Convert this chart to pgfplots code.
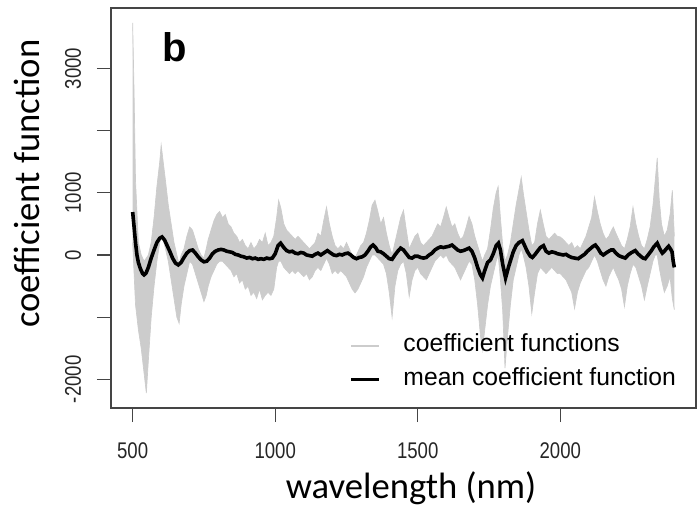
\documentclass[border=0pt]{standalone}
\usepackage{fontspec}
\usepackage{pgfplots}
\usepackage{pgfplotstable}
\pgfplotsset{compat=1.18}
\usepgfplotslibrary{fillbetween}
\newfontfamily\tickfont[FakeStretch=0.82]{Liberation Sans}
\newfontfamily\legfont{Liberation Sans}
\newfontfamily\labfont{Carlito}
\definecolor{band}{gray}{0.80}
\definecolor{frame}{gray}{0.27}

% envelope of the individual coefficient functions
\pgfplotstableread{
x up lo
500 3730 200
505 2600 -300
510 1200 -800
520 200 -1200
530 0 -1500
540 -100 -1900
548 -50 -2220
555 0 -1700
565 200 -1000
575 600 -500
585 1100 -100
595 1500 200
600 1770 300
607 1500 250
615 1200 100
625 800 -100
635 500 -400
645 200 -700
655 0 -1000
663 -150 -1100
670 0 -800
680 100 -500
690 300 -300
700 450 -100
710 400 -150
720 250 -300
730 100 -450
740 0 -600
750 -50 -750
758 100 -650
765 250 -500
775 400 -350
785 550 -250
795 650 -150
805 700 -100
815 600 -100
825 650 -150
835 500 -200
845 450 -250
855 350 -350
865 300 -300
875 200 -450
885 250 -400
895 150 -550
905 100 -500
915 200 -650
925 100 -600
935 150 -700
945 250 -550
955 200 -720
965 350 -650
975 150 -600
985 200 -650
995 300 -550
1005 600 -200
1012 880 -100
1020 750 -100
1030 500 -200
1040 400 -250
1050 350 -300
1060 300 -250
1070 250 -300
1080 300 -250
1090 250 -300
1100 200 -350
1110 150 -300
1120 100 -400
1130 150 -350
1140 200 -250
1150 350 -200
1160 300 -250
1170 550 -150
1180 770 -50
1190 500 -150
1200 300 -300
1210 150 -250
1220 100 -300
1230 150 -250
1240 100 -300
1250 200 -350
1260 100 -450
1270 0 -550
1280 -50 -610
1290 50 -550
1300 150 -450
1310 200 -350
1320 350 -200
1330 550 -100
1340 800 0
1350 880 0
1360 700 -50
1370 500 -100
1380 600 -150
1390 350 -300
1400 150 -600
1410 0 -1000
1420 200 -500
1430 400 -250
1440 600 -150
1450 720 -100
1460 400 -300
1470 100 -670
1480 200 -400
1490 300 -250
1500 350 -200
1510 200 -300
1520 150 -350
1530 200 -400
1540 250 -300
1550 300 -200
1560 400 -100
1570 500 -50
1580 450 0
1590 600 -50
1600 770 0
1610 600 -100
1620 450 -150
1630 500 -200
1640 350 -300
1650 250 -400
1660 300 -300
1670 450 -200
1680 620 -100
1690 500 -150
1700 300 -400
1710 150 -800
1720 0 -1300
1727 -100 -1530
1735 0 -1200
1745 100 -800
1755 400 -500
1765 750 -300
1775 1000 -100
1782 1100 0
1790 600 -400
1798 150 -900
1806 -100 -1820
1815 0 -1300
1825 200 -800
1835 500 -400
1845 800 -200
1855 1050 0
1863 1250 100
1870 1000 0
1880 700 -200
1890 400 -500
1900 150 -940
1910 200 -600
1920 500 -300
1930 720 -200
1940 500 -250
1950 300 -300
1960 250 -250
1970 300 -200
1980 350 -250
1990 300 -300
2000 290 -300
2010 250 -350
2020 200 -400
2030 150 -500
2040 200 -600
2050 100 -860
2060 150 -600
2070 100 -450
2080 200 -350
2090 300 -250
2100 450 -200
2110 600 -100
2120 930 0
2130 700 -100
2140 500 -250
2150 350 -400
2160 250 -500
2170 300 -350
2180 400 -250
2186 450 -200
2195 350 -300
2205 250 -400
2215 150 -550
2225 100 -830
2235 250 -500
2245 450 -300
2255 770 -150
2265 500 -200
2275 300 -350
2285 150 -500
2295 100 -720
2305 250 -500
2315 450 -300
2325 800 -100
2333 1200 0
2340 1560 0
2347 900 -200
2355 500 -400
2365 300 -600
2375 400 -500
2385 650 -350
2393 1040 -700
2400 300 -880
}\envtab

% mean coefficient function
\pgfplotstableread{
x y
500 690
505 450
510 200
515 0
520 -120
527 -220
535 -300
540 -320
547 -290
555 -200
565 -50
575 80
585 200
595 270
603 290
612 240
620 160
630 60
640 -50
650 -130
660 -160
670 -120
680 -40
690 30
700 70
710 80
720 30
730 -30
740 -80
750 -110
760 -100
770 -50
780 20
790 60
800 80
810 90
820 80
830 60
840 50
850 40
860 10
870 0
880 -20
890 -30
900 -50
910 -40
920 -60
930 -50
940 -70
950 -60
960 -70
970 -50
980 -60
990 -50
1000 20
1010 150
1019 190
1030 120
1040 70
1050 50
1060 60
1070 30
1080 20
1090 40
1100 30
1110 0
1120 -10
1130 -20
1140 10
1150 30
1160 0
1170 30
1183 70
1195 30
1205 0
1215 -10
1225 10
1235 0
1245 20
1255 30
1265 0
1275 -40
1285 -60
1295 -40
1305 -30
1315 0
1325 60
1335 130
1343 160
1352 120
1360 60
1370 50
1380 20
1390 -20
1400 -60
1410 -70
1420 0
1430 60
1440 110
1450 80
1460 20
1470 -40
1480 -50
1490 -20
1500 -20
1510 -40
1520 -50
1530 -40
1540 0
1550 30
1560 80
1570 110
1580 130
1590 120
1600 130
1610 140
1620 160
1630 120
1640 80
1650 60
1660 70
1670 90
1680 110
1690 60
1700 -50
1710 -200
1720 -320
1727 -370
1735 -250
1745 -120
1755 -80
1765 20
1775 150
1783 190
1790 80
1798 -150
1808 -370
1818 -200
1826 -80
1835 50
1845 150
1855 200
1867 230
1875 150
1885 50
1895 -20
1902 -40
1910 0
1920 60
1930 120
1941 150
1950 60
1960 30
1970 50
1980 40
1990 20
2000 10
2010 0
2020 10
2030 -20
2040 -40
2050 -50
2063 -60
2075 -20
2085 10
2095 60
2105 100
2115 140
2123 160
2133 100
2142 30
2151 0
2160 30
2170 60
2178 80
2186 80
2195 30
2205 -10
2215 -30
2228 -50
2238 0
2250 40
2263 70
2272 20
2282 -20
2290 -50
2298 -60
2308 0
2318 60
2328 130
2340 190
2350 90
2358 30
2365 60
2372 100
2380 140
2386 100
2392 50
2396 -100
2400 -200
}\meantab

\begin{document}
\begin{tikzpicture}
\begin{axis}[
    scale only axis, width=438.75pt, height=300pt,
    xmin=424, xmax=2476, ymin=-2460, ymax=3970,
    axis line style={draw=frame, line width=0.9pt},
    tick pos=left, tick align=outside, major tick length=10.5pt,
    tick style={draw=frame, line width=0.9pt},
    xtick={500,1000,1500,2000}, xticklabels={500,1000,1500,2000},
    ytick={-2000,-1000,0,1000,2000,3000},
    yticklabels={-2000,{},0,1000,{},3000},
    ticklabel style={font=\tickfont\fontsize{17}{20}\selectfont, text=black!85},
    xticklabel style={anchor=base, yshift=-27pt},
    yticklabel style={xshift=-12pt, rotate=90, anchor=base},
    xlabel={wavelength (nm)}, ylabel={coefficient function},
    label style={font=\labfont\fontsize{27.5}{32}\selectfont},
    xlabel style={at={(axis description cs:0.513,-0.225)}, anchor=base},
    ylabel style={at={(axis description cs:-0.1214,0.561)}, anchor=base},
    legend style={draw=none, fill=none, at={(axis description cs:0.407,0.185)},
        anchor=north west, inner sep=0pt, row sep=8.5pt,
        font=\legfont\fontsize{18.5}{22}\selectfont,
        nodes={inner sep=0pt, text height=13pt, text depth=4pt},
        /tikz/every odd column/.append style={column sep=17pt}},
    legend cell align=left,
    legend image code/.code={\draw[#1] (0pt,0pt) -- (21pt,0pt);},
]
\addlegendimage{band, line width=1.4pt}
\addlegendimage{black, line width=2.6pt}
\addplot[name path=up, draw=band, line width=0.5pt, forget plot] table[x=x, y=up] {\envtab};
\addplot[name path=lo, draw=band, line width=0.5pt, forget plot] table[x=x, y=lo] {\envtab};
\addplot[band, forget plot] fill between[of=up and lo];
\addplot[black, line width=2.7pt, forget plot] table[x=x, y=y] {\meantab};
\node[anchor=base west, inner sep=0pt, font=\legfont\bfseries\fontsize{30}{34}\selectfont]
    at (axis description cs:0.088,0.8675) {b};
\legend{coefficient functions, mean coefficient function}
\end{axis}
\pgfresetboundingbox
\path[use as bounding box] ([xshift=-83.25pt,yshift=-75.75pt]current axis.south west)
    rectangle ([xshift=0.75pt,yshift=6pt]current axis.north east);
\end{tikzpicture}
\end{document}
